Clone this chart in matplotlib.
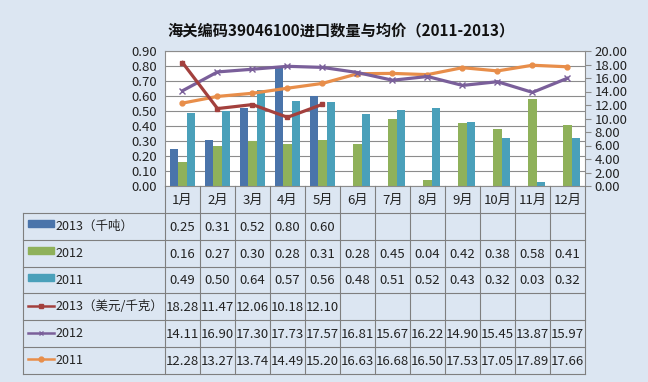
import matplotlib
matplotlib.use("Agg")
import matplotlib.pyplot as plt
import numpy as np
from matplotlib.lines import Line2D
from matplotlib.patches import Rectangle

plt.rcParams['font.family'] = ['Noto Sans CJK SC', 'DejaVu Sans']

months = ['1月', '2月', '3月', '4月', '5月', '6月', '7月', '8月', '9月', '10月', '11月', '12月']
qty_2013 = [0.25, 0.31, 0.52, 0.80, 0.60]
qty_2012 = [0.16, 0.27, 0.30, 0.28, 0.31, 0.28, 0.45, 0.04, 0.42, 0.38, 0.58, 0.41]
qty_2011 = [0.49, 0.50, 0.64, 0.57, 0.56, 0.48, 0.51, 0.52, 0.43, 0.32, 0.03, 0.32]
price_2013 = [18.28, 11.47, 12.06, 10.18, 12.10]
price_2012 = [14.11, 16.90, 17.30, 17.73, 17.57, 16.81, 15.67, 16.22, 14.90, 15.45, 13.87, 15.97]
price_2011 = [12.28, 13.27, 13.74, 14.49, 15.20, 16.63, 16.68, 16.50, 17.53, 17.05, 17.89, 17.66]
labels = ['2013（千吨）', '2012', '2011', '2013（美元/千克）', '2012', '2011']

c_b13, c_b12, c_b11 = '#4A74AA', '#8FB15A', '#4AA0BA'
c_l13, c_l12, c_l11 = '#A3403D', '#7A5F9A', '#E88E4A'
bg = '#DCE6F2'
grid_c = '#8C8C8C'
fs = 9.5

W, H = 648, 382
fig = plt.figure(figsize=(W/100, H/100), dpi=100)
fig.patch.set_facecolor(bg)

L, R, T, B = 165, 585, 51, 186
ax = fig.add_axes([L/W, 1-B/H, (R-L)/W, (B-T)/H])
ax.set_facecolor('white')
n = len(months)
x = np.arange(n)
bw = 0.23
ax.bar(x[:len(qty_2013)] - bw, qty_2013, bw, color=c_b13, zorder=2)
ax.bar(x, qty_2012, bw, color=c_b12, zorder=2)
ax.bar(x + bw, qty_2011, bw, color=c_b11, zorder=2)
ax.set_xlim(-0.5, n-0.5)
ax.set_ylim(0, 0.9)
ax.set_yticks(np.arange(0, 0.91, 0.1))
ax.set_yticklabels([f'{v:.2f}' for v in np.arange(0, 0.91, 0.1)], fontsize=fs, color='#222222')
ax.yaxis.grid(True, color=grid_c, lw=0.8, zorder=0)
ax.set_axisbelow(True)
ax.set_xticks([])
ax.tick_params(axis='y', length=0, pad=6)
for s in ax.spines.values():
    s.set_color(grid_c); s.set_linewidth(0.8)

ax2 = ax.twinx()
ax2.plot(x, price_2011, color=c_l11, lw=2.3, marker='o', ms=3.5, zorder=3)
ax2.plot(x, price_2012, color=c_l12, lw=2.3, marker='x', ms=4, mew=1, zorder=3)
ax2.plot(x[:len(price_2013)], price_2013, color=c_l13, lw=2.3, marker='s', ms=3.5, zorder=4)
ax2.set_ylim(0, 20)
ax2.set_yticks(np.arange(0, 20.1, 2))
ax2.set_yticklabels([f'{v:.2f}' for v in np.arange(0, 20.1, 2)], fontsize=fs, color='#222222')
ax2.tick_params(axis='y', length=4, color=grid_c, pad=3)
for s in ax2.spines.values():
    s.set_visible(False)

fig.text(341/W, 1-30/H, '海关编码39046100进口数量与均价（2011-2013）', ha='center', va='center',
         fontsize=11, fontweight='bold', color='#111111')

# data table
tl = 23
rows_y = [B, 213] + [213 + 26.8*(i+1) for i in range(6)]
colw = (R - L) / n
lc = '#7F7F7F'
def fx(px): return px / W
def fy(py): return 1 - py / H
def hline(x0, x1, y):
    fig.add_artist(Line2D([fx(x0), fx(x1)], [fy(y), fy(y)], color=lc, lw=0.8))
def vline(xp, y0, y1):
    fig.add_artist(Line2D([fx(xp), fx(xp)], [fy(y0), fy(y1)], color=lc, lw=0.8))

for j in range(n+1):
    vline(L + j*colw, B, rows_y[-1])
for j in range(n):
    fig.text(fx(L + (j+0.5)*colw), fy((B+213)/2 + 1), months[j], ha='center', va='center', fontsize=fs, color='#222222')
for i in range(1, len(rows_y)):
    hline(tl, R, rows_y[i])
vline(tl, rows_y[1], rows_y[-1])

table_rows = [qty_2013, qty_2012, qty_2011, price_2013, price_2012, price_2011]
colors = [c_b13, c_b12, c_b11, c_l13, c_l12, c_l11]
markers = [None, None, None, 's', 'x', 'o']
for i, (vals, lab, c, m) in enumerate(zip(table_rows, labels, colors, markers)):
    yc = (rows_y[i+1] + rows_y[i+2]) / 2
    if m is None:
        fig.add_artist(Rectangle((fx(28), fy(yc + 1)), 26/W, 7/H, color=c))
    else:
        fig.add_artist(Line2D([fx(28), fx(54)], [fy(yc-1), fy(yc-1)], color=c, lw=1.8))
        fig.add_artist(Line2D([fx(41)], [fy(yc-1)], color=c, marker=m, ms=3.5, mew=1))
    fig.text(fx(55), fy(yc), lab, ha='left', va='center', fontsize=9, color='#222222')
    for j, v in enumerate(vals):
        fig.text(fx(L + (j+0.5)*colw), fy(yc + 1), f'{v:.2f}', ha='center', va='center',
                 fontsize=fs, color='#222222')

fig.savefig('out.png', dpi=100, facecolor=bg)
